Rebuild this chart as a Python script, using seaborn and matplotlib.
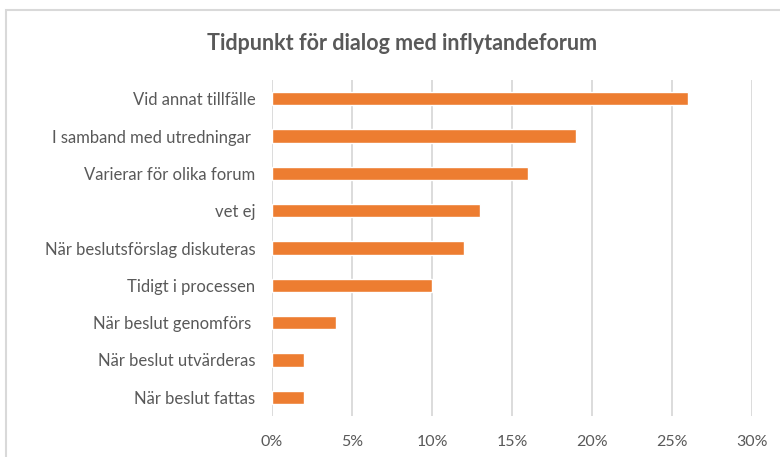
import numpy as np
import pandas as pd
import matplotlib
matplotlib.use("Agg")
import matplotlib.pyplot as plt
import seaborn as sns
from matplotlib.patches import Rectangle

categories = ["Vid annat tillfälle", "I samband med utredningar ", "Varierar för olika forum",
              "vet ej", "När beslutsförslag diskuteras", "Tidigt i processen",
              "När beslut genomförs ", "När beslut utvärderas", "När beslut fattas"]
values = [26, 19, 16, 13, 12, 10, 4, 2, 2]
xticks = [0, 5, 10, 15, 20, 25, 30]
xticklabels = ["0%", "5%", "10%", "15%", "20%", "25%", "30%"]

sns.set_style("white")
plt.rcParams['font.family'] = ['Lato', 'DejaVu Sans']
grey = "#595959"

df = pd.DataFrame({"cat": categories, "val": values})

fig = plt.figure(figsize=(7.8, 4.57), dpi=100)
ax = fig.add_axes([272/780, 1 - 416/457, 480/780, 336/457])
sns.barplot(data=df, x="val", y="cat", orient="h", color="#ED7D31",
            width=0.35, saturation=1, ax=ax)

ax.set_xlim(0, 30)
ax.set_xticks(xticks)
ax.set_xticklabels(xticklabels, color=grey, fontsize=11.5)
ax.tick_params(axis="y", labelsize=12, labelcolor=grey, length=0, pad=12)
ax.tick_params(axis="x", length=0, pad=14)
ax.set_xlabel("")
ax.set_ylabel("")
ax.xaxis.grid(True, color="#d9d9d9", linewidth=1.3)
ax.set_axisbelow(True)
for s in ax.spines.values():
    s.set_visible(False)

fig.text(402/780, 1 - 43/457, "Tidpunkt för dialog med inflytandeforum",
         ha="center", va="center", fontsize=15.5, fontweight="bold", color=grey)

# chart frame
fig.patches.append(Rectangle((6/780, -0.2), 1.2, 1 - 10/457 + 0.2, transform=fig.transFigure,
                             fill=False, edgecolor="#d9d9d9", linewidth=1.5))

fig.savefig("out.png", dpi=100)
